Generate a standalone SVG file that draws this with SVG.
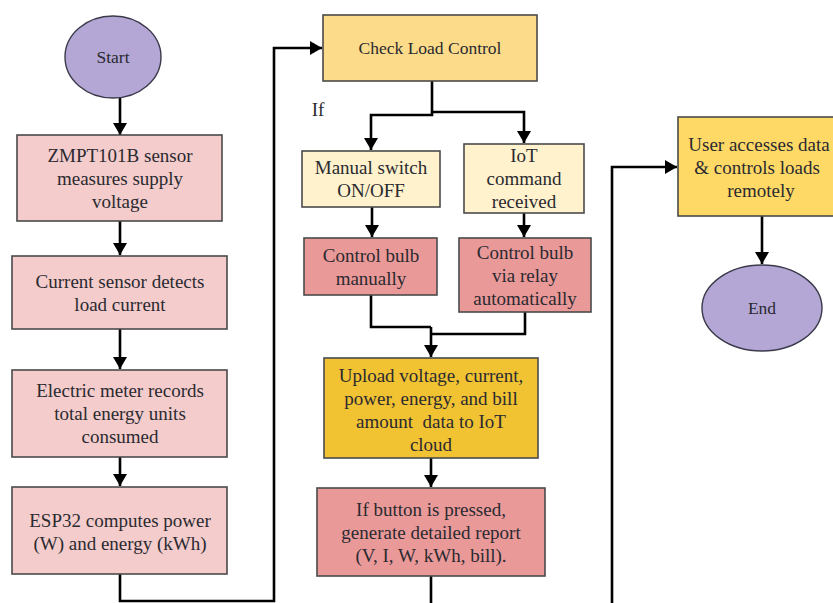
<svg xmlns="http://www.w3.org/2000/svg" width="833" height="603" viewBox="0 0 833 603">
<defs>
<marker id="ah" markerUnits="userSpaceOnUse" markerWidth="12" markerHeight="14" viewBox="0 0 12 14" refX="12" refY="7" orient="auto">
<path d="M0,0 L12,7 L0,14 Z" fill="#000"/>
</marker>
</defs>
<style>
.bx{stroke:#4a4a4a;stroke-width:1.6}
.el{fill:#B4A7D6;stroke:#3a3a4a;stroke-width:1.4}
.t{font-family:"Liberation Serif","Times New Roman",serif;font-size:19px;fill:#2a2a30;text-anchor:middle}
.s{font-size:17.5px}
.c{fill:none;stroke:#000;stroke-width:2.6;marker-end:url(#ah)}
.cn{fill:none;stroke:#000;stroke-width:2.6}
.pink{fill:#F4CCCC}.ly{fill:#FFF2CC}.gold{fill:#FCDB8A}.red{fill:#EA9999}.dy{fill:#F1C232}.y1{fill:#FFD966}
</style>
<rect width="833" height="603" fill="#fff"/>
<g id="connectors">
<path class="c" d="M120 98 V135"/>
<path class="c" d="M120 221 V255"/>
<path class="c" d="M120 329 V369"/>
<path class="c" d="M120 457 V486"/>
<path class="c" d="M120 574 V601 H274 V48 H322"/>
<path class="c" d="M432 81 V115 H371 V150"/>
<path class="c" d="M432 112 H524 V143"/>
<path class="c" d="M372 207 V237"/>
<path class="c" d="M524 213 V237"/>
<path class="cn" d="M371 295 V327 H431"/>
<path class="cn" d="M525 312 V334 H431"/>
<path class="c" d="M431 327 V357"/>
<path class="c" d="M431 458 V487"/>
<path class="c" d="M431 576 V610 H612 V167 H677"/>
<path class="c" d="M762 216 V264"/>
</g>
<g id="start"><ellipse class="el" cx="113" cy="57" rx="48" ry="41"/><text class="t s" x="113" y="63">Start</text></g>
<g id="zmpt"><rect class="bx pink" x="17" y="135" width="205" height="86"/>
<text class="t" x="120" y="161.5">ZMPT101B sensor</text><text class="t" x="120" y="184.5">measures supply</text><text class="t" x="120" y="207.5">voltage</text></g>
<g id="current"><rect class="bx pink" x="12" y="256" width="215" height="73"/>
<text class="t" x="120" y="287.5">Current sensor detects</text><text class="t" x="120" y="310.5">load current</text></g>
<g id="meter"><rect class="bx pink" x="12" y="370" width="215" height="87"/>
<text class="t" x="120" y="397">Electric meter records</text><text class="t" x="120" y="420">total energy units</text><text class="t" x="120" y="443">consumed</text></g>
<g id="esp32"><rect class="bx pink" x="12" y="487" width="215" height="87"/>
<text class="t" x="120" y="527">ESP32 computes power</text><text class="t" x="120" y="550">(W) and energy (kWh)</text></g>
<g id="check"><rect class="bx gold" x="323" y="15" width="214" height="66"/>
<text class="t s" x="430" y="54">Check Load Control</text></g>
<g id="iflabel"><text class="t" x="318" y="116">If</text></g>
<g id="manual"><rect class="bx ly" x="302" y="151" width="138" height="56"/>
<text class="t" x="371" y="174">Manual switch</text><text class="t" x="371" y="197">ON/OFF</text></g>
<g id="iot"><rect class="bx ly" x="464" y="144" width="120" height="69"/>
<text class="t" x="524" y="162">IoT</text><text class="t" x="524" y="185">command</text><text class="t" x="524" y="208">received</text></g>
<g id="bulbmanual"><rect class="bx red" x="304" y="238" width="133" height="57"/>
<text class="t" x="371" y="261.5">Control bulb</text><text class="t" x="371" y="284.5">manually</text></g>
<g id="bulbrelay"><rect class="bx red" x="459" y="238" width="132" height="74"/>
<text class="t" x="525" y="259">Control bulb</text><text class="t" x="525" y="282">via relay</text><text class="t" x="525" y="305">automatically</text></g>
<g id="upload"><rect class="bx dy" x="324" y="358" width="214" height="100"/>
<text class="t" x="431" y="382">Upload voltage, current,</text><text class="t" x="431" y="405">power, energy, and bill</text><text class="t" x="431" y="428" xml:space="preserve">amount  data to IoT</text><text class="t" x="431" y="451">cloud</text></g>
<g id="report"><rect class="bx red" x="317" y="488" width="228" height="88"/>
<text class="t" x="431" y="516">If button is pressed,</text><text class="t" x="431" y="539">generate detailed report</text><text class="t" x="431" y="562">(V, I, W, kWh, bill).</text></g>
<g id="user"><rect class="bx y1" x="678" y="117" width="165" height="99"/>
<text class="t" x="759" y="151">User accesses data</text><text class="t" x="757" y="174">&amp; controls loads</text><text class="t" x="761" y="197">remotely</text></g>
<g id="end"><ellipse class="el" cx="762" cy="308" rx="60" ry="43"/><text class="t s" x="762" y="314">End</text></g>
</svg>
